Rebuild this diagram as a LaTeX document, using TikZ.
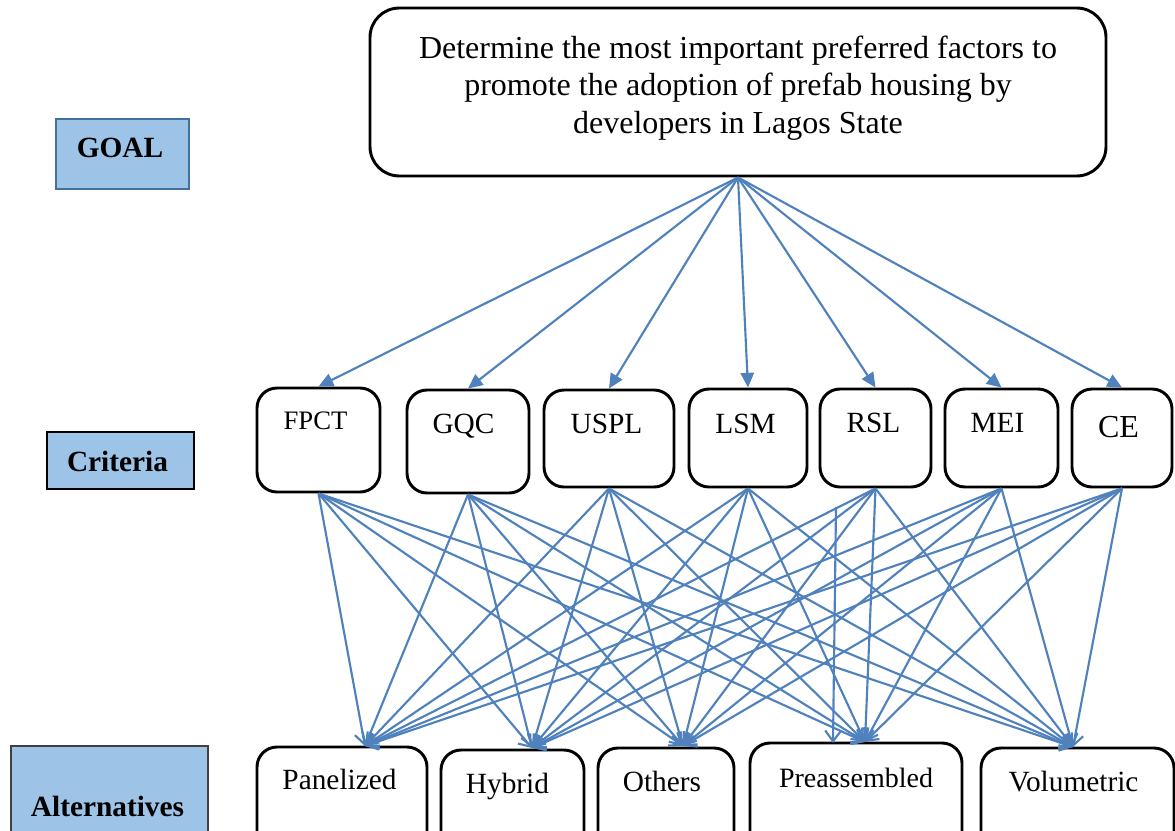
\documentclass[tikz,border=0pt]{standalone}
\usepackage{fontspec}
\setmainfont{Liberation Serif}
\usetikzlibrary{fit,arrows.meta}
\definecolor{lineblue}{RGB}{79,129,189}
\definecolor{labfill}{RGB}{157,195,230}
\definecolor{labborder}{RGB}{65,113,156}
\begin{document}
\begin{tikzpicture}[x=0.375pt,y=-0.375pt,
 rbox/.style={draw=black,line width=1.1pt,rounded corners=7.5pt,fill=white,inner sep=0pt},
 labbox/.style={fill=labfill,line width=0.8pt,inner sep=0pt},
 txt/.style={inner sep=0pt,anchor=base,font=\fontsize{11}{13}\selectfont},
 btxt/.style={inner sep=0pt,anchor=base,font=\fontsize{11}{13}\selectfont\bfseries},
 topar/.style={draw=lineblue,line width=0.8pt,-{Triangle[length=5.5pt,width=5pt]}},
 botar/.style={draw=lineblue,line width=0.8pt,-{Straight Barb[length=4pt,width=6pt]}}]
\useasboundingbox (0,0) rectangle (1175,831);
\clip (0,0) rectangle (1175,831);
% level labels
\node[labbox,draw=labborder,fit={(56,119) (189,189)}] (goalbox) {};
\node[btxt] (goallab) at (120,158) {GOAL};
\node[labbox,draw=black,fit={(47,432) (194,489)}] (critbox) {};
\node[btxt] (critlab) at (117.5,471) {Criteria};
\node[labbox,draw=black!75,fit={(11,746) (208,870)}] (altbox) {};
\node[btxt] (altlab) at (107.5,816) {Alternatives};
% goal
\node[rbox,rounded corners=11pt,fit={(370,8) (1106,176)}] (goal) {};
\node[inner sep=0pt,align=center,font=\fontsize{12}{14}\selectfont] (goaltxt) at (738,88)
 {Determine the most important preferred factors to\\promote the adoption of prefab housing by\\developers in Lagos State};
% criteria
\node[rbox,fit={(257,388) (380,492)}] (fpct) {};
\node[rbox,fit={(407,390) (529,493)}] (gqc) {};
\node[rbox,fit={(544,390) (674,487)}] (uspl) {};
\node[rbox,fit={(689,389) (807,487)}] (lsm) {};
\node[rbox,fit={(820,389) (931,487)}] (rsl) {};
\node[rbox,fit={(945,389) (1058,487)}] (mei) {};
\node[rbox,fit={(1072,389) (1172,487)}] (ce) {};
\node[txt,font=\fontsize{10}{12}\selectfont] (fpctt) at (315.5,429) {FPCT};
\node[txt] (gqct) at (463.5,433) {GQC};
\node[txt] (usplt) at (606.5,433) {USPL};
\node[txt] (lsmt) at (745.5,433) {LSM};
\node[txt] (rslt) at (873.5,432) {RSL};
\node[txt] (meit) at (997.5,432) {MEI};
\node[txt,font=\fontsize{12}{14}\selectfont] (cet) at (1118.5,437) {CE};
% alternatives
\node[rbox,fit={(257,747) (427,870)}] (pan) {};
\node[rbox,fit={(441,750) (584,870)}] (hyb) {};
\node[rbox,fit={(598,748) (734,870)}] (oth) {};
\node[rbox,fit={(750,743) (962,870)}] (pre) {};
\node[rbox,fit={(981,748) (1174,870)}] (vol) {};
\node[txt] (pant) at (339.5,789) {Panelized};
\node[txt] (hybt) at (507.5,793) {Hybrid};
\node[txt] (otht) at (662,791) {Others};
\node[txt,font=\fontsize{10.5}{12.5}\selectfont] (pret) at (856,787) {Preassembled};
\node[txt] (volt) at (1073.5,791) {Volumetric};
\coordinate (panin) at (365,746);
\coordinate (hybin) at (532,748);
\coordinate (othin) at (683,746);
\coordinate (prein) at (865,742);
\coordinate (volin) at (1073,747);
\coordinate (strayfrom) at (836,507);
\coordinate (strayto) at (833,743);
% goal to criteria
\foreach \c in {fpct,gqc,uspl,lsm,rsl,mei,ce}
  \draw[topar] (goal.south) -- (\c.north);
% criteria to alternatives
\foreach \c in {fpct,gqc,uspl,lsm,rsl,mei,ce}
  \foreach \a in {panin,hybin,othin,prein,volin}
    \draw[botar] (\c.south) -- (\a);
\draw[botar] (strayfrom) -- (strayto);
\end{tikzpicture}
\end{document}
